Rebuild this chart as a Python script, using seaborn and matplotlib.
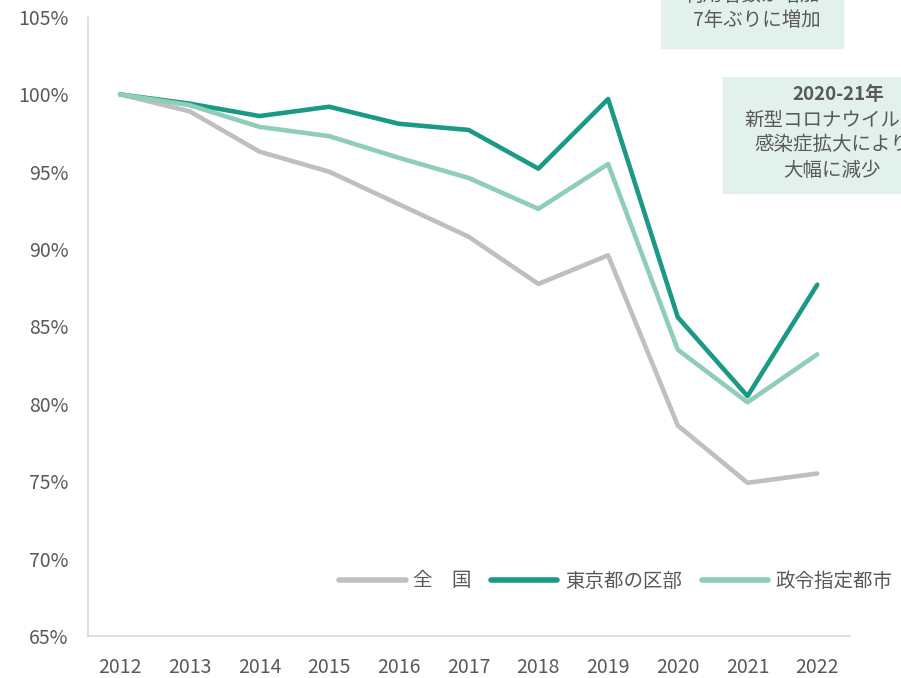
import pandas as pd
import matplotlib.pyplot as plt
import seaborn as sns
from matplotlib.patches import Rectangle
from matplotlib.ticker import FuncFormatter

years = list(range(2012, 2023))
zenkoku = [100, 98.9, 96.3, 95.0, 92.9, 90.8, 87.75, 89.6, 78.6, 74.9, 75.5]
tokyo = [100, 99.4, 98.6, 99.2, 98.1, 97.7, 95.2, 99.7, 85.6, 80.5, 87.7]
seirei = [100, 99.3, 97.9, 97.3, 95.9, 94.6, 92.6, 95.5, 83.5, 80.1, 83.2]
series_names = ['全\u3000国', '東京都の区部', '政令指定都市']
colors = ['#BFBFBF', '#1A9985', '#8ECDB8']

df = pd.DataFrame({
    'year': years * 3,
    'value': zenkoku + tokyo + seirei,
    'series': [series_names[0]] * 11 + [series_names[1]] * 11 + [series_names[2]] * 11,
})

sns.set_style('white')
plt.rcParams['font.family'] = ['Noto Sans CJK JP', 'DejaVu Sans']

fig = plt.figure(figsize=(9.01, 6.78), dpi=100)
ax = fig.add_axes([88 / 901, 42 / 678, 762 / 901, 619 / 678])

sns.lineplot(data=df, x='year', y='value', hue='series', palette=colors,
             linewidth=3.3, ax=ax, legend=False)

ax.set_xlim(2011.54, 2022.47)
ax.set_ylim(65, 105)
ax.set_yticks(range(65, 106, 5))
ax.set_xticks(years)
ax.yaxis.set_major_formatter(FuncFormatter(lambda v, p: f'{v:.0f}%'))
ax.set_xlabel('')
ax.set_ylabel('')
for s in ['top', 'right']:
    ax.spines[s].set_visible(False)
for s in ['left', 'bottom']:
    ax.spines[s].set_color('#D9D9D9')
    ax.spines[s].set_linewidth(1.2)
ax.tick_params(axis='both', length=0, labelsize=14, colors='#595959')
ax.tick_params(axis='x', pad=15)
ax.tick_params(axis='y', pad=14)

# legend
handles = [plt.Line2D([], [], color=c, lw=4) for c in colors]
fig.legend(handles, series_names, loc='center right', bbox_to_anchor=(1.01, 1 - 581 / 678),
           ncol=3, frameon=False, fontsize=14, handlelength=3.4, handletextpad=0.4,
           columnspacing=1.0, labelcolor='#595959')

# annotation boxes
box_color = '#E2F1EC'
fig.patches.append(Rectangle((661 / 901, 1 - 48 / 678), 182 / 901, 60 / 678,
                             transform=fig.transFigure, color=box_color, zorder=0))
fig.text(752 / 901, 1 + 5 / 678, '利用者数が増加', ha='center', va='center',
         fontsize=14, color='#595959')
fig.text(757 / 901, 1 - 20 / 678, '7年ぶりに増加', ha='center', va='center',
         fontsize=14, color='#595959')

fig.patches.append(Rectangle((723 / 901, 1 - 193 / 678), 200 / 901, 116 / 678,
                             transform=fig.transFigure, color=box_color, zorder=0))
fig.text(838 / 901, 1 - 95 / 678, '2020-21年', ha='center', va='center',
         fontsize=13.5, color='#595959', fontweight='bold')
for i, line in enumerate(['新型コロナウイルス', '感染症拡大により', '大幅に減少']):
    fig.text(832 / 901, 1 - (120 + 25 * i) / 678, line, ha='center', va='center',
             fontsize=14, color='#595959')

plt.savefig('out.png', dpi=100)
